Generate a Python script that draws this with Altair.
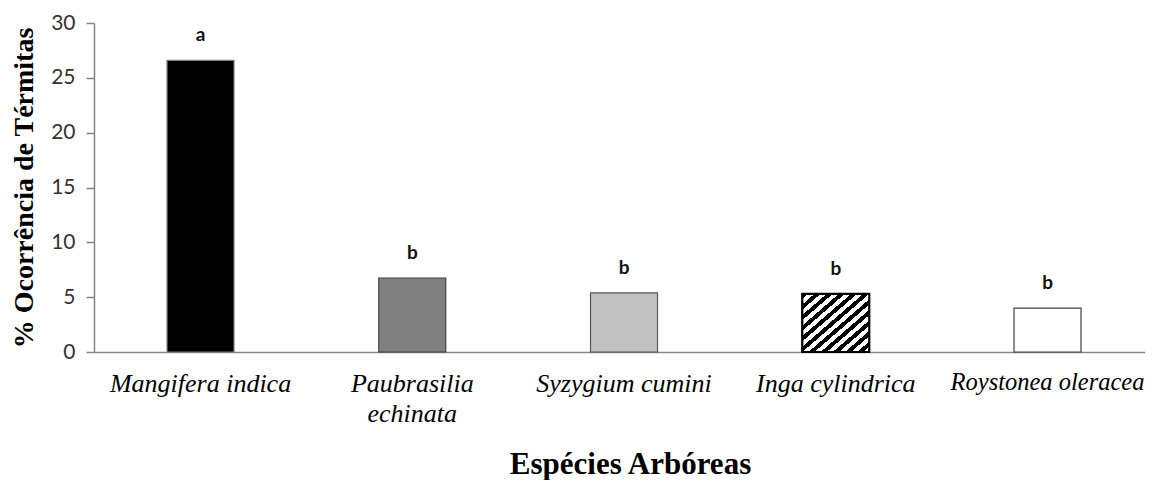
import altair as alt
import pandas as pd

species = ["Mangifera indica", "Paubrasilia echinata", "Syzygium cumini",
           "Inga cylindrica", "Roystonea oleracea"]
values = [26.6, 6.75, 5.4, 5.3, 4.0]
letters = ["a", "b", "b", "b", "b"]
fills = ["#000000", "#808080", "#c0c0c0", "#ffffff", "#ffffff"]
strokes = ["#7f7f7f", "#404040", "#595959", "#000000", "#404040"]

df = pd.DataFrame({"species": species, "value": values, "letter": letters,
                   "fill": fills, "stroke": strokes})

N = 11
stops = []
for i in range(N):
    a = i / N
    b = (i + 0.5) / N
    c = (i + 1) / N
    stops += [alt.GradientStop(offset=a, color="#000000"),
              alt.GradientStop(offset=b, color="#000000"),
              alt.GradientStop(offset=b, color="#ffffff"),
              alt.GradientStop(offset=c, color="#ffffff")]
hatch = alt.Gradient(gradient="linear", stops=stops, x1=0, y1=0, x2=1, y2=1)

labelexpr = "datum.label == 'Paubrasilia echinata' ? ['Paubrasilia', 'echinata'] : datum.label"

W, H = 1051, 329

x = alt.X("species:N", sort=species, title="Espécies Arbóreas",
          scale=alt.Scale(paddingInner=0.6836, paddingOuter=0.3235, align=0.533),
          axis=alt.Axis(labelAngle=0, labelFont="Liberation Serif", labelFontStyle="italic",
                        labelFontSize={"condition": {"test": "datum.value == 'Roystonea oleracea'",
                                                     "value": 24.5},
                                       "value": 26},
                        labelColor="#000000", labelPadding=18,
                        labelLineHeight=30, labelExpr=labelexpr, ticks=False,
                        labelLimit=400, labelOverlap=False,
                        domainColor="#868686", domainWidth=1.5,
                        titleFont="Liberation Serif", titleFontWeight="bold",
                        titleFontSize=31, titleColor="#000000",
                        titleX=536, titleY=121, titleAlign="center",
                        titleBaseline="alphabetic"))
y = alt.Y("value:Q", title="% Ocorrência de Térmitas",
          scale=alt.Scale(domain=[0, 30], nice=False),
          axis=alt.Axis(values=[0, 5, 10, 15, 20, 25, 30], grid=False,
                        labelFont="Lato", labelFontSize=21, labelColor="#333333",
                        labelPadding=11, tickSize=8, tickColor="#868686", tickWidth=1.5,
                        domainColor="#868686", domainWidth=1.5,
                        titleFont="Liberation Serif", titleFontWeight="bold",
                        titleFontSize=28, titleColor="#000000",
                        titleX=-70, titleY=H / 2, titleAngle=270,
                        titleAlign="center", titleBaseline="middle"))

base = alt.Chart(df)
bars = base.mark_bar(strokeWidth=1.2).encode(
    x=x, y=y,
    fill=alt.Fill("fill:N", scale=None),
    stroke=alt.Stroke("stroke:N", scale=None))
inga = base.transform_filter(alt.datum.species == "Inga cylindrica").mark_bar(
    fill=hatch, stroke="#000000", strokeWidth=2.2).encode(x=x, y=y)
text = base.mark_text(baseline="alphabetic", dy=-19, font="Lato", fontWeight="bold",
                      fontSize=19, color="#111111").encode(x=x, y=y, text="letter:N")

chart = alt.layer(bars, inga, text).properties(
    width=W, height=H,
    autosize=alt.AutoSizeParams(type="none"),
    padding={"left": 86, "top": 15, "right": 0, "bottom": 128},
).configure_view(stroke=None)

chart.save("out.html", embed_options={"renderer": "svg", "actions": False})
